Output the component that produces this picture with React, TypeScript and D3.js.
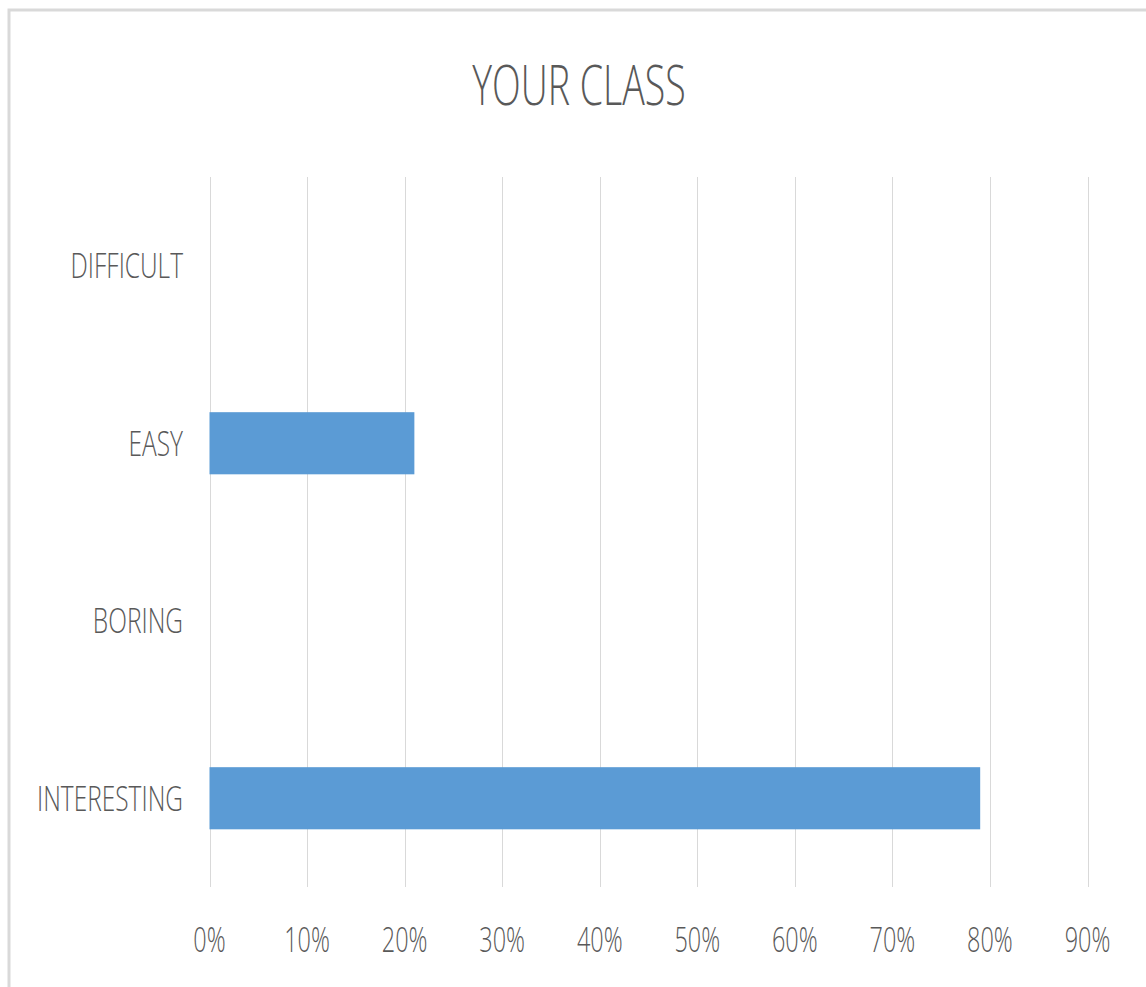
import React from "react";
import * as d3 from "d3";

const categories = ["DIFFICULT", "EASY", "BORING", "INTERESTING"];
const values = [0, 0.21, 0, 0.79];
const tickValues = [0, 0.1, 0.2, 0.3, 0.4, 0.5, 0.6, 0.7, 0.8, 0.9];
const title = "YOUR CLASS";

const W = 1146;
const H = 987;
const FONT = "'Open Sans', 'Noto Sans', sans-serif";
const SX = 0.67;
const SXC = 0.7;
const TEXT = "#595959";

export default function App() {
  const x = d3.scaleLinear().domain([0, 0.9]).range([209.5, 1087.5]);
  const y = d3
    .scaleBand<string>()
    .domain(categories)
    .range([177, 887])
    .paddingInner(0.65)
    .paddingOuter(0.325);
  const fmt = d3.format(".0%");
  const labelSize = 35;
  const cap = labelSize * 0.714;

  return (
    <svg
      width={W}
      height={H}
      style={{ position: "absolute", left: 0, top: 0, background: "#fff" }}
    >
      <rect x={0} y={0} width={W} height={H} fill="#fff" />
      <rect
        x={9}
        y={10}
        width={W + 20}
        height={H + 20}
        fill="#fff"
        stroke="#d9d9d9"
        strokeWidth={3}
      />
      <text
        transform={`translate(579,105) scale(${SX},1)`}
        textAnchor="middle"
        fontFamily={FONT}
        fontSize={56}
        fontWeight={300}
        fill={TEXT}
      >
        {title}
      </text>
      {tickValues.map((t) => (
        <line
          key={"g" + t}
          x1={Math.round(x(t)) + 0.5}
          x2={Math.round(x(t)) + 0.5}
          y1={177}
          y2={887}
          stroke="#d9d9d9"
          strokeWidth={1}
        />
      ))}
      {categories.map((c, i) => (
        <rect
          key={"b" + c}
          x={x(0)}
          y={y(c)!}
          width={x(values[i]) - x(0)}
          height={y.bandwidth()}
          fill="#5B9BD5"
        />
      ))}
      {tickValues.map((t) => (
        <text
          key={"t" + t}
          transform={`translate(${x(t)},952) scale(${SX},1)`}
          textAnchor="middle"
          fontFamily={FONT}
          fontSize={labelSize}
          fontWeight={300}
          fill={TEXT}
        >
          {fmt(t)}
        </text>
      ))}
      {categories.map((c) => (
        <text
          key={"c" + c}
          transform={`translate(183,${y(c)! + y.bandwidth() / 2 + cap / 2}) scale(${SXC},1)`}
          textAnchor="end"
          fontFamily={FONT}
          fontSize={labelSize}
          fontWeight={300}
          fill={TEXT}
        >
          {c}
        </text>
      ))}
    </svg>
  );
}
